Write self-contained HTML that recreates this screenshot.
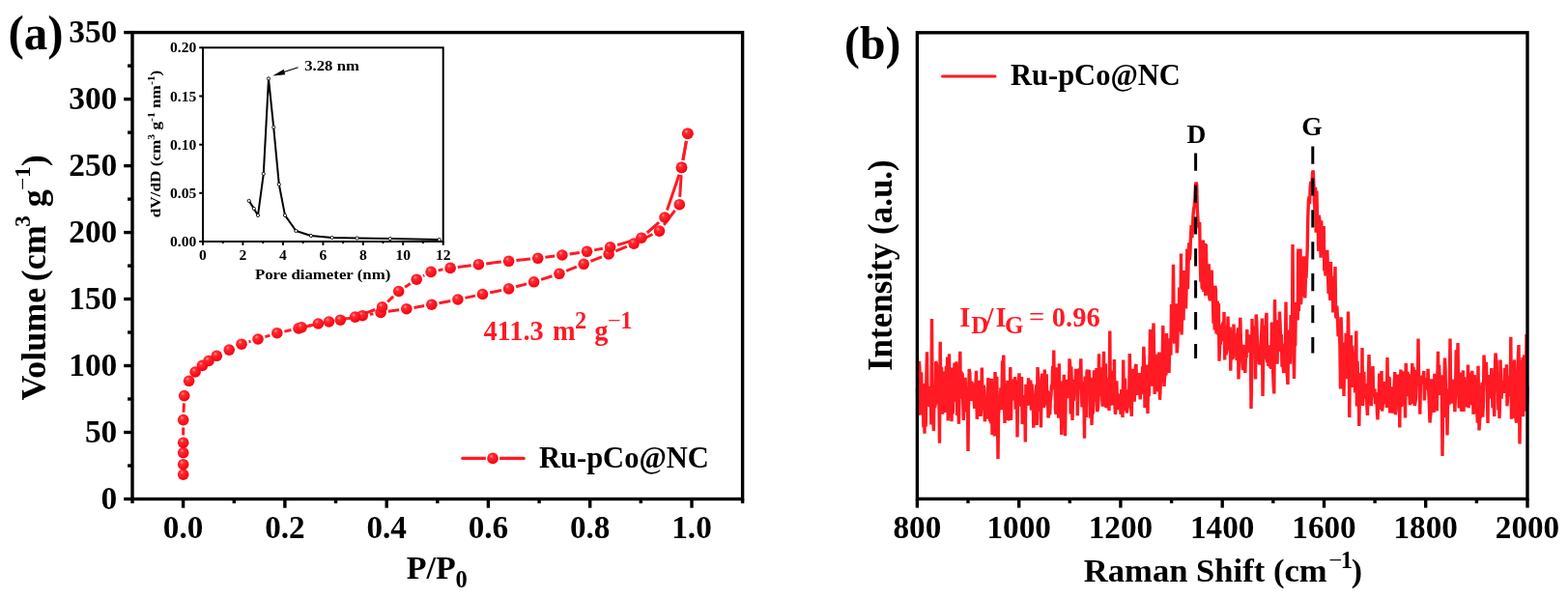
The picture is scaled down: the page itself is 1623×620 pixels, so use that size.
<!DOCTYPE html>
<html><head><meta charset="utf-8"><title>Figure</title>
<style>
html,body{margin:0;padding:0;background:#fff;}
body{width:1623px;height:620px;overflow:hidden;}
svg{display:block;font-family:"Liberation Serif", "Times New Roman", serif;}
</style></head>
<body>
<svg width="1623" height="620" viewBox="0 0 1623 620">
<rect x="0" y="0" width="1623" height="620" fill="#fff"/>
<rect x="137.0" y="33.6" width="631.6" height="482.9" fill="none" stroke="#000" stroke-width="3.4"/>
<line x1="128.2" y1="516.5" x2="137.0" y2="516.5" stroke="#000" stroke-width="3.4"/>
<text x="121.3" y="527.2" font-size="34" text-anchor="end" fill="#000" font-weight="bold" textLength="16.7" lengthAdjust="spacingAndGlyphs">0</text>
<line x1="132.1" y1="482.0" x2="137.0" y2="482.0" stroke="#000" stroke-width="3.4"/>
<line x1="128.2" y1="447.5" x2="137.0" y2="447.5" stroke="#000" stroke-width="3.4"/>
<text x="121.3" y="458.2" font-size="34" text-anchor="end" fill="#000" font-weight="bold" textLength="33.4" lengthAdjust="spacingAndGlyphs">50</text>
<line x1="132.1" y1="413.0" x2="137.0" y2="413.0" stroke="#000" stroke-width="3.4"/>
<line x1="128.2" y1="378.5" x2="137.0" y2="378.5" stroke="#000" stroke-width="3.4"/>
<text x="121.3" y="389.2" font-size="34" text-anchor="end" fill="#000" font-weight="bold" textLength="50.1" lengthAdjust="spacingAndGlyphs">100</text>
<line x1="132.1" y1="344.0" x2="137.0" y2="344.0" stroke="#000" stroke-width="3.4"/>
<line x1="128.2" y1="309.5" x2="137.0" y2="309.5" stroke="#000" stroke-width="3.4"/>
<text x="121.3" y="320.2" font-size="34" text-anchor="end" fill="#000" font-weight="bold" textLength="50.1" lengthAdjust="spacingAndGlyphs">150</text>
<line x1="132.1" y1="275.1" x2="137.0" y2="275.1" stroke="#000" stroke-width="3.4"/>
<line x1="128.2" y1="240.6" x2="137.0" y2="240.6" stroke="#000" stroke-width="3.4"/>
<text x="121.3" y="251.3" font-size="34" text-anchor="end" fill="#000" font-weight="bold" textLength="50.1" lengthAdjust="spacingAndGlyphs">200</text>
<line x1="132.1" y1="206.1" x2="137.0" y2="206.1" stroke="#000" stroke-width="3.4"/>
<line x1="128.2" y1="171.6" x2="137.0" y2="171.6" stroke="#000" stroke-width="3.4"/>
<text x="121.3" y="182.3" font-size="34" text-anchor="end" fill="#000" font-weight="bold" textLength="50.1" lengthAdjust="spacingAndGlyphs">250</text>
<line x1="132.1" y1="137.1" x2="137.0" y2="137.1" stroke="#000" stroke-width="3.4"/>
<line x1="128.2" y1="102.6" x2="137.0" y2="102.6" stroke="#000" stroke-width="3.4"/>
<text x="121.3" y="113.3" font-size="34" text-anchor="end" fill="#000" font-weight="bold" textLength="50.1" lengthAdjust="spacingAndGlyphs">300</text>
<line x1="132.1" y1="68.1" x2="137.0" y2="68.1" stroke="#000" stroke-width="3.4"/>
<line x1="128.2" y1="33.6" x2="137.0" y2="33.6" stroke="#000" stroke-width="3.4"/>
<text x="121.3" y="44.3" font-size="34" text-anchor="end" fill="#000" font-weight="bold" textLength="50.1" lengthAdjust="spacingAndGlyphs">350</text>
<line x1="137.0" y1="516.5" x2="137.0" y2="521.0" stroke="#000" stroke-width="3.4"/>
<line x1="189.6" y1="516.5" x2="189.6" y2="525.7" stroke="#000" stroke-width="3.4"/>
<text x="189.6" y="557.4" font-size="33.2" text-anchor="middle" fill="#000" font-weight="bold" >0.0</text>
<line x1="242.3" y1="516.5" x2="242.3" y2="521.0" stroke="#000" stroke-width="3.4"/>
<line x1="294.9" y1="516.5" x2="294.9" y2="525.7" stroke="#000" stroke-width="3.4"/>
<text x="294.9" y="557.4" font-size="33.2" text-anchor="middle" fill="#000" font-weight="bold" >0.2</text>
<line x1="347.5" y1="516.5" x2="347.5" y2="521.0" stroke="#000" stroke-width="3.4"/>
<line x1="400.2" y1="516.5" x2="400.2" y2="525.7" stroke="#000" stroke-width="3.4"/>
<text x="400.2" y="557.4" font-size="33.2" text-anchor="middle" fill="#000" font-weight="bold" >0.4</text>
<line x1="452.8" y1="516.5" x2="452.8" y2="521.0" stroke="#000" stroke-width="3.4"/>
<line x1="505.4" y1="516.5" x2="505.4" y2="525.7" stroke="#000" stroke-width="3.4"/>
<text x="505.4" y="557.4" font-size="33.2" text-anchor="middle" fill="#000" font-weight="bold" >0.6</text>
<line x1="558.1" y1="516.5" x2="558.1" y2="521.0" stroke="#000" stroke-width="3.4"/>
<line x1="610.7" y1="516.5" x2="610.7" y2="525.7" stroke="#000" stroke-width="3.4"/>
<text x="610.7" y="557.4" font-size="33.2" text-anchor="middle" fill="#000" font-weight="bold" >0.8</text>
<line x1="663.3" y1="516.5" x2="663.3" y2="521.0" stroke="#000" stroke-width="3.4"/>
<line x1="716.0" y1="516.5" x2="716.0" y2="525.7" stroke="#000" stroke-width="3.4"/>
<text x="716.0" y="557.4" font-size="33.2" text-anchor="middle" fill="#000" font-weight="bold" >1.0</text>
<line x1="768.6" y1="516.5" x2="768.6" y2="521.0" stroke="#000" stroke-width="3.4"/>
<text x="8.4" y="50.6" font-size="50" text-anchor="start" fill="#000" font-weight="bold" textLength="57.2" lengthAdjust="spacingAndGlyphs">(a)</text>
<text x="420.8" y="599.1" font-size="34" font-weight="bold" fill="#000">P/P<tspan font-size="24.5" x="471.6" y="607.6">0</tspan></text>
<text transform="translate(46.6,414.5) rotate(-90)" font-size="36" font-weight="bold" fill="#000">Volume <tspan dx="-2.5">(cm</tspan><tspan font-size="23" dy="-15.5" dx="-1.3">3</tspan><tspan dy="15.5"> g</tspan><tspan font-size="23" dy="-15.5" dx="-0.5" font-weight="normal">−</tspan><tspan font-size="23">1</tspan><tspan dy="15.5">)</tspan></text>
<defs><radialGradient id="ball" cx="0.38" cy="0.32" r="0.7"><stop offset="0" stop-color="#ff9a9a"/><stop offset="0.25" stop-color="#ff2a30"/><stop offset="1" stop-color="#f50010"/></radialGradient></defs>
<path d="M189.7,450.4 L189.7,442.4 M190.0,426.8 L190.4,417.4 M257.5,353.9 L259.5,353.3 M274.4,348.6 L279.4,347.1 M294.4,343.1 L301.4,341.5 M316.6,338.1 L321.8,336.8 M337.1,333.7 L344.6,332.5 M360.0,329.7 L367.5,328.2 M382.9,325.4 L386.4,324.7 M401.8,322.3 L413.1,320.8 M428.5,318.4 L439.1,316.5 M454.5,313.7 L466.2,311.5 M481.5,308.4 L491.9,306.1 M507.1,302.9 L519.0,300.5 M534.1,296.8 L545.1,293.9 M560.0,289.4 L571.5,285.7 M586.2,280.4 L596.9,276.2 M611.4,270.4 L622.9,265.8 M637.3,259.9 L648.9,255.1 M663.1,248.7 L675.5,242.5 M687.2,232.9 L698.6,217.9 M703.7,203.9 L705.1,181.2 M706.9,165.7 L710.4,145.9" fill="none" stroke="#ff1a24" stroke-width="3" stroke-linecap="butt"/>
<path d="M710.4,145.9 L706.9,165.7 M703.0,180.8 L690.5,217.6 M682.1,230.2 L669.8,241.0 M656.4,248.4 L639.1,253.6 M623.9,257.2 L615.2,258.9 M599.8,261.4 L589.6,262.9 M574.2,265.0 L564.4,266.3 M548.9,268.1 L534.4,269.5 M518.8,271.1 L503.2,272.9 M487.7,274.7 L473.8,276.4 M458.5,278.9 L453.7,279.9 M439.2,285.0 L438.1,285.6 M424.7,293.5 L419.2,297.2 M407.1,306.9 L401.2,312.4 M388.3,320.5 L374.9,325.4 M359.9,329.5 L348.2,331.6 M332.9,334.6 L319.7,337.2" fill="none" stroke="#ff1a24" stroke-width="3" stroke-linecap="butt"/>
<circle cx="189.7" cy="491.1" r="5.8" fill="url(#ball)"/>
<circle cx="189.7" cy="480.7" r="5.8" fill="url(#ball)"/>
<circle cx="189.7" cy="468.6" r="5.8" fill="url(#ball)"/>
<circle cx="189.7" cy="458.2" r="5.8" fill="url(#ball)"/>
<circle cx="189.7" cy="434.6" r="5.8" fill="url(#ball)"/>
<circle cx="190.7" cy="409.6" r="5.8" fill="url(#ball)"/>
<circle cx="195.6" cy="394.3" r="5.8" fill="url(#ball)"/>
<circle cx="202.1" cy="385.0" r="5.8" fill="url(#ball)"/>
<circle cx="209.4" cy="378.4" r="5.8" fill="url(#ball)"/>
<circle cx="216.0" cy="373.5" r="5.8" fill="url(#ball)"/>
<circle cx="224.3" cy="368.3" r="5.8" fill="url(#ball)"/>
<circle cx="237.2" cy="362.1" r="5.8" fill="url(#ball)"/>
<circle cx="250.0" cy="356.2" r="5.8" fill="url(#ball)"/>
<circle cx="267.0" cy="351.0" r="5.8" fill="url(#ball)"/>
<circle cx="286.8" cy="344.7" r="5.8" fill="url(#ball)"/>
<circle cx="309.0" cy="339.9" r="5.8" fill="url(#ball)"/>
<circle cx="329.4" cy="335.0" r="5.8" fill="url(#ball)"/>
<circle cx="352.3" cy="331.2" r="5.8" fill="url(#ball)"/>
<circle cx="375.2" cy="326.7" r="5.8" fill="url(#ball)"/>
<circle cx="394.1" cy="323.4" r="5.8" fill="url(#ball)"/>
<circle cx="420.8" cy="319.7" r="5.8" fill="url(#ball)"/>
<circle cx="446.8" cy="315.2" r="5.8" fill="url(#ball)"/>
<circle cx="473.9" cy="310.0" r="5.8" fill="url(#ball)"/>
<circle cx="499.5" cy="304.5" r="5.8" fill="url(#ball)"/>
<circle cx="526.6" cy="298.9" r="5.8" fill="url(#ball)"/>
<circle cx="552.6" cy="291.8" r="5.8" fill="url(#ball)"/>
<circle cx="578.9" cy="283.3" r="5.8" fill="url(#ball)"/>
<circle cx="604.2" cy="273.3" r="5.8" fill="url(#ball)"/>
<circle cx="630.1" cy="262.9" r="5.8" fill="url(#ball)"/>
<circle cx="656.1" cy="252.1" r="5.8" fill="url(#ball)"/>
<circle cx="682.5" cy="239.1" r="5.8" fill="url(#ball)"/>
<circle cx="703.3" cy="211.7" r="5.8" fill="url(#ball)"/>
<circle cx="705.5" cy="173.4" r="5.8" fill="url(#ball)"/>
<circle cx="711.8" cy="138.2" r="5.8" fill="url(#ball)"/>
<circle cx="711.8" cy="138.2" r="5.8" fill="url(#ball)"/>
<circle cx="705.5" cy="173.4" r="5.8" fill="url(#ball)"/>
<circle cx="688.0" cy="225.0" r="5.8" fill="url(#ball)"/>
<circle cx="663.9" cy="246.2" r="5.8" fill="url(#ball)"/>
<circle cx="631.6" cy="255.8" r="5.8" fill="url(#ball)"/>
<circle cx="607.5" cy="260.3" r="5.8" fill="url(#ball)"/>
<circle cx="581.9" cy="264.0" r="5.8" fill="url(#ball)"/>
<circle cx="556.7" cy="267.3" r="5.8" fill="url(#ball)"/>
<circle cx="526.6" cy="270.3" r="5.8" fill="url(#ball)"/>
<circle cx="495.4" cy="273.7" r="5.8" fill="url(#ball)"/>
<circle cx="466.1" cy="277.4" r="5.8" fill="url(#ball)"/>
<circle cx="446.1" cy="281.4" r="5.8" fill="url(#ball)"/>
<circle cx="431.2" cy="289.2" r="5.8" fill="url(#ball)"/>
<circle cx="412.7" cy="301.5" r="5.8" fill="url(#ball)"/>
<circle cx="395.6" cy="317.8" r="5.8" fill="url(#ball)"/>
<circle cx="367.6" cy="328.1" r="5.8" fill="url(#ball)"/>
<circle cx="340.5" cy="333.0" r="5.8" fill="url(#ball)"/>
<circle cx="312.1" cy="338.8" r="5.8" fill="url(#ball)"/>
<line x1="478.8" y1="474.4" x2="542.2" y2="474.4" stroke="#ff1a24" stroke-width="3.2" stroke-linecap="round"/>
<circle cx="510" cy="474.4" r="7.2" fill="#fff"/><circle cx="510" cy="474.4" r="5.8" fill="url(#ball)"/>
<text x="558.0" y="484.0" font-size="30.5" text-anchor="start" fill="#000" font-weight="bold" >Ru-pCo@NC</text>
<text x="500.4" y="351.5" font-size="28.4" font-weight="bold" fill="#ff1a24">411.3<tspan x="571.9">m</tspan><tspan font-size="24.5" x="595" y="340.2">2</tspan><tspan x="615.3" y="351.5">g</tspan><tspan font-size="24.5" x="629" y="340.2" font-weight="normal">−</tspan><tspan font-size="24.5" x="642.3" y="340.2">1</tspan></text>
<rect x="210.0" y="49.3" width="248.7" height="200.7" fill="none" stroke="#000" stroke-width="2.0"/>
<line x1="206.2" y1="250.0" x2="210.0" y2="250.0" stroke="#000" stroke-width="2.0"/>
<text x="203.3" y="255.0" font-size="15.6" text-anchor="end" fill="#000" font-weight="bold" >0.00</text>
<line x1="206.2" y1="199.8" x2="210.0" y2="199.8" stroke="#000" stroke-width="2.0"/>
<text x="203.3" y="204.8" font-size="15.6" text-anchor="end" fill="#000" font-weight="bold" >0.05</text>
<line x1="206.2" y1="149.7" x2="210.0" y2="149.7" stroke="#000" stroke-width="2.0"/>
<text x="203.3" y="154.7" font-size="15.6" text-anchor="end" fill="#000" font-weight="bold" >0.10</text>
<line x1="206.2" y1="99.5" x2="210.0" y2="99.5" stroke="#000" stroke-width="2.0"/>
<text x="203.3" y="104.5" font-size="15.6" text-anchor="end" fill="#000" font-weight="bold" >0.15</text>
<line x1="206.2" y1="49.3" x2="210.0" y2="49.3" stroke="#000" stroke-width="2.0"/>
<text x="203.3" y="54.3" font-size="15.6" text-anchor="end" fill="#000" font-weight="bold" >0.20</text>
<line x1="210.0" y1="250.0" x2="210.0" y2="253.8" stroke="#000" stroke-width="2.0"/>
<text x="210.0" y="268.7" font-size="15.6" text-anchor="middle" fill="#000" font-weight="bold" >0</text>
<line x1="230.7" y1="250.0" x2="230.7" y2="252.0" stroke="#000" stroke-width="2.0"/>
<line x1="251.4" y1="250.0" x2="251.4" y2="253.8" stroke="#000" stroke-width="2.0"/>
<text x="251.4" y="268.7" font-size="15.6" text-anchor="middle" fill="#000" font-weight="bold" >2</text>
<line x1="272.2" y1="250.0" x2="272.2" y2="252.0" stroke="#000" stroke-width="2.0"/>
<line x1="292.9" y1="250.0" x2="292.9" y2="253.8" stroke="#000" stroke-width="2.0"/>
<text x="292.9" y="268.7" font-size="15.6" text-anchor="middle" fill="#000" font-weight="bold" >4</text>
<line x1="313.6" y1="250.0" x2="313.6" y2="252.0" stroke="#000" stroke-width="2.0"/>
<line x1="334.4" y1="250.0" x2="334.4" y2="253.8" stroke="#000" stroke-width="2.0"/>
<text x="334.4" y="268.7" font-size="15.6" text-anchor="middle" fill="#000" font-weight="bold" >6</text>
<line x1="355.1" y1="250.0" x2="355.1" y2="252.0" stroke="#000" stroke-width="2.0"/>
<line x1="375.8" y1="250.0" x2="375.8" y2="253.8" stroke="#000" stroke-width="2.0"/>
<text x="375.8" y="268.7" font-size="15.6" text-anchor="middle" fill="#000" font-weight="bold" >8</text>
<line x1="396.5" y1="250.0" x2="396.5" y2="252.0" stroke="#000" stroke-width="2.0"/>
<line x1="417.2" y1="250.0" x2="417.2" y2="253.8" stroke="#000" stroke-width="2.0"/>
<text x="417.2" y="268.7" font-size="15.6" text-anchor="middle" fill="#000" font-weight="bold" >10</text>
<line x1="438.0" y1="250.0" x2="438.0" y2="252.0" stroke="#000" stroke-width="2.0"/>
<line x1="458.7" y1="250.0" x2="458.7" y2="253.8" stroke="#000" stroke-width="2.0"/>
<text x="458.7" y="268.7" font-size="15.6" text-anchor="middle" fill="#000" font-weight="bold" >12</text>
<text x="334.1" y="289.0" font-size="15.5" text-anchor="middle" fill="#000" font-weight="bold" textLength="140.3" lengthAdjust="spacingAndGlyphs">Pore diameter (nm)</text>
<text transform="translate(166.2,149) rotate(-90)" text-anchor="middle" font-size="15.5" font-weight="bold" fill="#000" textLength="152.7" lengthAdjust="spacingAndGlyphs">dV/dD (cm<tspan font-size="10.5" dy="-6.5">3</tspan><tspan dy="6.5"> g</tspan><tspan font-size="10.5" dy="-6.5">-1</tspan><tspan dy="6.5"> nm</tspan><tspan font-size="10.5" dy="-6.5">-1</tspan><tspan dy="6.5">)</tspan></text>
<path d="M257.7,207.9 L262.8,215.9 L267.0,222.9 L272.8,179.8 L278.0,81.4 L283.2,131.6 L288.8,190.8 L295.0,222.9 L306.4,239.0 L321.9,244.0 L343.7,246.0 L369.6,246.5 L403.8,247.0 L454.6,248.0" fill="none" stroke="#000" stroke-width="2" stroke-linejoin="round"/>
<circle cx="257.7" cy="207.9" r="1.6" fill="#fff" stroke="#000" stroke-width="0.9"/>
<circle cx="262.8" cy="215.9" r="1.6" fill="#fff" stroke="#000" stroke-width="0.9"/>
<circle cx="267.0" cy="222.9" r="1.6" fill="#fff" stroke="#000" stroke-width="0.9"/>
<circle cx="272.8" cy="179.8" r="1.6" fill="#fff" stroke="#000" stroke-width="0.9"/>
<circle cx="278.0" cy="81.4" r="1.6" fill="#fff" stroke="#000" stroke-width="0.9"/>
<circle cx="283.2" cy="131.6" r="1.6" fill="#fff" stroke="#000" stroke-width="0.9"/>
<circle cx="288.8" cy="190.8" r="1.6" fill="#fff" stroke="#000" stroke-width="0.9"/>
<circle cx="295.0" cy="222.9" r="1.6" fill="#fff" stroke="#000" stroke-width="0.9"/>
<circle cx="306.4" cy="239.0" r="1.6" fill="#fff" stroke="#000" stroke-width="0.9"/>
<circle cx="321.9" cy="244.0" r="1.6" fill="#fff" stroke="#000" stroke-width="0.9"/>
<circle cx="343.7" cy="246.0" r="1.6" fill="#fff" stroke="#000" stroke-width="0.9"/>
<circle cx="369.6" cy="246.5" r="1.6" fill="#fff" stroke="#000" stroke-width="0.9"/>
<circle cx="403.8" cy="247.0" r="1.6" fill="#fff" stroke="#000" stroke-width="0.9"/>
<circle cx="454.6" cy="248.0" r="1.6" fill="#fff" stroke="#000" stroke-width="0.9"/>
<line x1="308.5" y1="69.8" x2="287" y2="76.8" stroke="#000" stroke-width="1.2"/>
<polygon points="282.2,78.6 293.7,71.8 295.2,77.3" fill="#000"/>
<text x="315.2" y="73.4" font-size="15.5" text-anchor="start" fill="#000" font-weight="bold" textLength="56.7" lengthAdjust="spacingAndGlyphs">3.28 nm</text>
<line x1="949.4" y1="516.4" x2="949.4" y2="525.6" stroke="#000" stroke-width="3.4"/>
<text x="949.4" y="557.4" font-size="33.2" text-anchor="middle" fill="#000" font-weight="bold" >800</text>
<line x1="1002.0" y1="516.4" x2="1002.0" y2="520.9" stroke="#000" stroke-width="3.4"/>
<line x1="1054.7" y1="516.4" x2="1054.7" y2="525.6" stroke="#000" stroke-width="3.4"/>
<text x="1054.7" y="557.4" font-size="33.2" text-anchor="middle" fill="#000" font-weight="bold" >1000</text>
<line x1="1107.3" y1="516.4" x2="1107.3" y2="520.9" stroke="#000" stroke-width="3.4"/>
<line x1="1159.9" y1="516.4" x2="1159.9" y2="525.6" stroke="#000" stroke-width="3.4"/>
<text x="1159.9" y="557.4" font-size="33.2" text-anchor="middle" fill="#000" font-weight="bold" >1200</text>
<line x1="1212.6" y1="516.4" x2="1212.6" y2="520.9" stroke="#000" stroke-width="3.4"/>
<line x1="1265.2" y1="516.4" x2="1265.2" y2="525.6" stroke="#000" stroke-width="3.4"/>
<text x="1265.2" y="557.4" font-size="33.2" text-anchor="middle" fill="#000" font-weight="bold" >1400</text>
<line x1="1317.8" y1="516.4" x2="1317.8" y2="520.9" stroke="#000" stroke-width="3.4"/>
<line x1="1370.5" y1="516.4" x2="1370.5" y2="525.6" stroke="#000" stroke-width="3.4"/>
<text x="1370.5" y="557.4" font-size="33.2" text-anchor="middle" fill="#000" font-weight="bold" >1600</text>
<line x1="1423.1" y1="516.4" x2="1423.1" y2="520.9" stroke="#000" stroke-width="3.4"/>
<line x1="1475.7" y1="516.4" x2="1475.7" y2="525.6" stroke="#000" stroke-width="3.4"/>
<text x="1475.7" y="557.4" font-size="33.2" text-anchor="middle" fill="#000" font-weight="bold" >1800</text>
<line x1="1528.4" y1="516.4" x2="1528.4" y2="520.9" stroke="#000" stroke-width="3.4"/>
<line x1="1581.0" y1="516.4" x2="1581.0" y2="525.6" stroke="#000" stroke-width="3.4"/>
<text x="1581.0" y="557.4" font-size="33.2" text-anchor="middle" fill="#000" font-weight="bold" >2000</text>
<text x="874.0" y="60.5" font-size="49" text-anchor="start" fill="#000" font-weight="bold" textLength="58.3" lengthAdjust="spacingAndGlyphs">(b)</text>
<text x="1121.8" y="601.8" font-size="33.8" font-weight="bold" fill="#000" textLength="251.8" lengthAdjust="spacingAndGlyphs">Raman Shift (cm</text>
<text x="1121.8" y="601.8" font-size="33.8" font-weight="bold" fill="#000"><tspan font-size="24.5" x="1375.5" y="588" font-weight="normal">−</tspan><tspan font-size="24.5" x="1387.8" y="588">1</tspan><tspan x="1398.7" y="601.8">)</tspan></text>
<text transform="translate(923.3,384) rotate(-90)" font-size="35" font-weight="bold" fill="#000">Intensity (a.u.)</text>
<line x1="975.5" y1="79" x2="1030" y2="79" stroke="#ff1a24" stroke-width="3" stroke-linecap="round"/>
<text x="1046.0" y="87.5" font-size="30.5" text-anchor="start" fill="#000" font-weight="bold" >Ru-pCo@NC</text>
<text x="1238.5" y="148.1" font-size="27.5" text-anchor="middle" fill="#000" font-weight="bold" >D</text>
<text x="1358.0" y="140.0" font-size="27.5" text-anchor="middle" fill="#000" font-weight="bold" >G</text>
<text x="993.3" y="337.8" font-size="28.5" font-weight="bold" fill="#ff1a24">I<tspan font-size="25" x="1005.2" y="344.5">D</tspan><tspan x="1020.6" y="337.8">/</tspan><tspan x="1030.4">I</tspan><tspan font-size="25" x="1040" y="344.5">G</tspan><tspan x="1065" y="337.8" font-weight="normal">=</tspan><tspan x="1088.8">0.96</tspan></text>
<path d="M949.4,402.0 L950.0,420.0 L950.5,430.0 L951.3,373.8 L951.9,380.6 L952.4,429.4 L953.0,398.9 L953.6,385.4 L954.1,401.6 L954.7,409.0 L955.3,397.4 L955.9,442.4 L956.4,408.4 L957.0,448.8 L957.6,396.8 L958.2,441.5 L958.9,390.9 L959.5,364.3 L960.1,412.0 L960.8,413.2 L961.4,399.9 L962.0,421.2 L962.6,406.3 L963.2,402.1 L963.9,439.5 L964.5,330.0 L965.1,411.6 L965.7,426.9 L966.4,446.0 L967.0,398.6 L967.6,422.0 L968.2,418.4 L968.8,373.9 L969.4,377.1 L970.0,382.2 L970.6,403.4 L971.3,418.3 L971.9,411.0 L972.5,458.8 L973.2,353.8 L973.8,412.8 L974.4,380.0 L975.1,389.3 L975.7,428.6 L976.3,412.3 L976.9,386.4 L977.5,384.8 L978.2,402.5 L978.8,427.0 L979.4,379.0 L980.0,410.2 L980.6,369.5 L981.3,435.4 L981.9,420.2 L982.5,366.3 L983.1,415.6 L983.8,412.3 L984.4,380.6 L985.0,436.3 L985.6,404.0 L986.2,428.4 L986.9,394.0 L987.5,388.8 L988.1,375.7 L988.8,415.7 L989.4,405.4 L990.0,374.3 L990.6,430.0 L991.2,401.3 L991.9,426.9 L992.5,438.8 L993.1,400.1 L993.8,363.8 L994.4,412.5 L995.0,384.7 L995.6,389.2 L996.1,386.2 L996.7,413.3 L997.3,434.9 L997.9,417.1 L998.5,411.2 L999.1,390.8 L999.7,411.8 L1000.2,426.4 L1000.8,408.1 L1001.4,404.6 L1002.0,467.0 L1002.6,411.5 L1003.2,382.0 L1003.8,385.9 L1004.4,401.2 L1005.0,415.3 L1005.6,395.0 L1006.2,397.4 L1006.9,400.6 L1007.5,401.4 L1008.1,410.2 L1008.7,422.8 L1009.3,396.5 L1009.9,400.1 L1010.5,383.8 L1011.3,433.8 L1011.9,428.8 L1012.5,405.9 L1013.2,393.9 L1013.8,413.2 L1014.4,401.7 L1015.0,430.8 L1015.7,423.0 L1016.3,380.5 L1016.9,406.9 L1017.5,407.6 L1018.1,399.0 L1018.7,401.6 L1019.3,436.3 L1019.9,429.2 L1020.5,421.4 L1021.1,411.1 L1021.7,433.6 L1022.3,410.9 L1022.9,391.0 L1023.5,412.5 L1024.0,398.3 L1024.6,436.3 L1025.2,400.9 L1025.8,438.5 L1026.4,391.9 L1027.0,450.0 L1027.6,408.2 L1028.2,412.2 L1028.8,441.1 L1029.4,451.5 L1030.0,385.0 L1030.6,399.4 L1031.2,392.2 L1031.8,389.8 L1032.4,422.6 L1033.0,475.0 L1033.6,428.0 L1034.2,421.7 L1034.7,419.1 L1035.3,415.0 L1035.9,401.3 L1036.5,424.1 L1037.1,401.4 L1037.6,373.2 L1038.2,406.5 L1038.8,367.5 L1039.4,407.2 L1040.0,438.0 L1040.5,407.1 L1041.1,396.7 L1041.7,415.8 L1042.3,413.0 L1042.9,393.7 L1043.5,435.0 L1044.0,434.0 L1044.6,399.9 L1045.2,412.2 L1045.8,380.0 L1046.5,435.0 L1047.1,399.1 L1047.7,395.4 L1048.3,397.1 L1048.9,414.4 L1049.5,392.2 L1050.0,406.9 L1050.6,390.0 L1051.2,423.8 L1051.8,394.8 L1052.4,394.1 L1053.0,452.5 L1053.7,395.0 L1054.3,395.5 L1055.0,386.3 L1055.6,420.6 L1056.3,415.8 L1056.9,420.6 L1057.5,389.9 L1058.2,439.1 L1058.8,427.7 L1059.4,426.1 L1060.0,409.2 L1060.7,411.9 L1061.3,457.5 L1061.9,397.8 L1062.6,419.7 L1063.2,414.9 L1063.9,419.4 L1064.5,391.3 L1065.1,410.0 L1065.7,407.7 L1066.3,394.9 L1066.8,395.1 L1067.4,424.8 L1068.0,397.4 L1068.6,402.9 L1069.2,411.8 L1069.8,442.7 L1070.4,419.2 L1071.0,421.5 L1071.5,415.9 L1072.1,415.8 L1072.7,398.2 L1073.3,440.0 L1074.0,380.0 L1074.6,390.0 L1075.2,425.6 L1075.8,413.9 L1076.3,396.6 L1076.9,414.6 L1077.5,442.5 L1078.1,393.9 L1078.8,386.7 L1079.4,418.2 L1080.0,412.6 L1080.7,422.0 L1081.3,382.5 L1081.9,408.3 L1082.5,390.0 L1083.2,387.4 L1083.8,419.8 L1084.4,404.3 L1085.0,432.5 L1085.6,429.1 L1086.2,405.9 L1086.7,429.1 L1087.3,413.7 L1087.9,409.0 L1088.5,398.1 L1089.1,399.6 L1089.6,378.9 L1090.2,390.9 L1090.8,362.5 L1091.3,403.1 L1091.9,389.1 L1092.5,424.2 L1093.0,428.8 L1093.7,397.8 L1094.3,380.2 L1095.0,398.3 L1095.6,432.7 L1096.3,376.3 L1096.9,424.1 L1097.5,398.2 L1098.2,415.8 L1098.8,450.0 L1099.4,408.1 L1100.0,394.6 L1100.7,422.7 L1101.3,387.8 L1101.9,418.7 L1102.5,451.3 L1103.1,410.6 L1103.6,412.6 L1104.2,392.8 L1104.8,406.2 L1105.3,409.8 L1105.9,406.3 L1106.4,411.8 L1107.0,371.3 L1107.6,377.6 L1108.2,428.6 L1108.8,379.5 L1109.4,400.6 L1110.0,435.0 L1110.6,406.5 L1111.2,415.1 L1111.8,404.6 L1112.3,393.0 L1112.9,408.6 L1113.5,381.9 L1114.1,406.2 L1114.7,383.3 L1115.3,430.3 L1115.9,404.4 L1116.5,385.9 L1117.0,381.5 L1117.6,399.4 L1118.2,386.8 L1118.8,371.3 L1119.4,403.1 L1120.0,421.4 L1120.7,409.3 L1121.3,395.2 L1121.9,405.4 L1122.5,453.8 L1123.1,389.5 L1123.7,403.3 L1124.3,432.1 L1124.9,385.4 L1125.5,382.5 L1126.1,398.6 L1126.6,397.3 L1127.2,382.8 L1127.8,393.4 L1128.3,432.8 L1128.9,419.1 L1129.4,390.8 L1130.0,440.0 L1130.6,422.4 L1131.2,428.3 L1131.9,417.4 L1132.5,383.4 L1133.1,414.7 L1133.8,413.1 L1134.4,395.5 L1135.0,381.1 L1135.6,425.9 L1136.2,424.3 L1136.9,414.6 L1137.5,366.3 L1138.1,405.6 L1138.8,391.3 L1139.4,410.2 L1140.0,380.2 L1140.6,408.2 L1141.2,420.6 L1141.9,390.2 L1142.5,363.8 L1143.1,420.8 L1143.7,414.4 L1144.3,376.3 L1144.9,422.3 L1145.6,409.7 L1146.2,391.0 L1146.8,402.1 L1147.4,407.4 L1148.0,425.0 L1148.8,342.5 L1149.4,419.6 L1149.9,415.4 L1150.5,383.5 L1151.1,419.5 L1151.7,404.5 L1152.2,403.9 L1152.8,417.9 L1153.4,371.9 L1153.9,418.4 L1154.5,428.8 L1155.1,418.3 L1155.8,394.4 L1156.4,413.7 L1157.0,416.5 L1157.6,424.1 L1158.2,407.7 L1158.9,409.7 L1159.5,409.8 L1160.1,428.9 L1160.8,403.0 L1161.4,422.8 L1162.0,432.0 L1162.7,372.5 L1163.3,425.2 L1163.9,401.2 L1164.5,391.6 L1165.1,420.4 L1165.7,403.3 L1166.3,427.5 L1166.9,423.1 L1167.5,406.1 L1168.1,422.2 L1168.7,411.5 L1169.3,366.0 L1170.0,397.9 L1170.6,420.7 L1171.3,431.0 L1171.9,393.3 L1172.5,381.8 L1173.1,409.2 L1173.7,399.5 L1174.2,415.8 L1174.8,395.1 L1175.4,379.3 L1176.0,377.0 L1176.6,402.0 L1177.2,395.4 L1177.8,409.0 L1178.4,399.5 L1179.0,386.0 L1179.6,400.1 L1180.2,413.5 L1180.8,402.9 L1181.4,403.3 L1182.0,407.9 L1182.6,379.4 L1183.2,393.4 L1183.8,358.8 L1184.4,373.0 L1185.0,422.1 L1185.6,407.3 L1186.2,418.5 L1186.8,377.6 L1187.4,395.6 L1188.0,428.0 L1188.6,380.4 L1189.2,410.3 L1189.9,381.8 L1190.5,341.0 L1191.1,394.7 L1191.7,399.5 L1192.2,385.2 L1192.8,382.2 L1193.4,355.3 L1194.0,334.5 L1194.6,372.3 L1195.2,408.0 L1195.8,375.3 L1196.4,385.7 L1197.0,395.5 L1197.5,368.8 L1198.1,367.1 L1198.7,405.4 L1199.3,399.7 L1199.9,364.5 L1200.5,413.8 L1201.2,398.7 L1201.8,386.0 L1202.5,383.2 L1203.1,374.8 L1203.8,337.0 L1204.4,387.1 L1205.0,400.0 L1205.6,389.0 L1206.2,384.4 L1206.9,388.6 L1207.5,345.0 L1208.1,382.3 L1208.8,369.3 L1209.4,358.2 L1210.0,386.0 L1210.6,362.8 L1211.2,350.0 L1211.9,367.8 L1212.5,315.0 L1213.2,335.9 L1213.8,337.7 L1214.5,273.8 L1215.1,336.7 L1215.7,355.6 L1216.3,319.2 L1217.0,338.8 L1217.6,314.2 L1218.2,365.4 L1218.8,357.6 L1219.4,321.5 L1220.0,343.4 L1220.7,297.5 L1221.3,331.5 L1221.9,330.2 L1222.5,262.5 L1223.1,346.5 L1223.8,304.4 L1224.4,283.5 L1225.0,331.6 L1225.7,280.1 L1226.3,291.1 L1226.9,291.8 L1227.5,319.4 L1228.2,289.8 L1228.8,257.5 L1229.4,299.1 L1230.0,275.3 L1230.7,251.4 L1231.3,269.1 L1231.9,262.8 L1232.5,244.4 L1233.1,233.1 L1233.8,246.1 L1234.4,238.1 L1235.0,223.2 L1235.6,215.9 L1236.2,213.4 L1236.9,204.2 L1237.5,191.3 L1238.1,188.6 L1238.7,191.2 L1239.3,216.7 L1239.9,227.3 L1240.5,233.1 L1241.1,236.3 L1241.7,230.1 L1242.3,270.3 L1242.9,291.7 L1243.5,275.9 L1244.1,297.6 L1244.7,299.1 L1245.3,248.4 L1245.9,302.0 L1246.5,252.8 L1247.1,252.0 L1247.7,306.3 L1248.3,252.9 L1248.9,278.4 L1249.5,305.6 L1250.0,296.1 L1250.7,282.4 L1251.2,273.2 L1251.8,307.8 L1252.4,311.1 L1253.0,299.8 L1253.6,281.4 L1254.2,279.9 L1254.8,309.4 L1255.4,310.8 L1256.0,334.8 L1256.6,308.9 L1257.2,341.5 L1257.8,295.7 L1258.4,299.9 L1259.0,345.5 L1259.6,326.4 L1260.2,311.5 L1260.8,346.8 L1261.4,314.1 L1262.0,373.8 L1262.6,355.7 L1263.2,356.4 L1263.9,339.1 L1264.5,336.3 L1265.1,338.9 L1265.8,333.6 L1266.4,353.1 L1267.0,323.0 L1267.7,372.5 L1268.4,341.0 L1269.0,367.1 L1269.7,364.3 L1270.3,360.2 L1271.0,327.5 L1271.6,351.1 L1272.1,355.7 L1272.7,359.3 L1273.2,338.5 L1273.8,383.8 L1274.4,341.7 L1275.1,372.5 L1275.7,359.8 L1276.4,371.5 L1277.0,335.5 L1277.6,367.8 L1278.2,352.9 L1278.9,368.3 L1279.5,345.4 L1280.1,373.0 L1280.8,349.4 L1281.4,339.3 L1282.0,392.5 L1282.6,367.2 L1283.2,344.4 L1283.8,328.8 L1284.4,351.7 L1285.0,366.9 L1285.7,370.9 L1286.3,383.1 L1286.9,356.8 L1287.5,371.0 L1288.2,365.1 L1288.8,386.0 L1289.5,365.1 L1290.1,370.5 L1290.8,341.0 L1291.4,360.5 L1292.0,364.7 L1292.6,346.4 L1293.2,352.9 L1293.8,361.0 L1294.4,354.3 L1295.0,423.0 L1295.5,395.2 L1296.0,330.0 L1296.6,356.6 L1297.2,358.7 L1297.8,365.9 L1298.3,347.8 L1298.9,337.6 L1299.5,392.5 L1300.2,325.5 L1300.8,333.1 L1301.4,353.0 L1302.0,366.2 L1302.7,363.1 L1303.3,377.3 L1303.9,376.0 L1304.5,371.7 L1305.2,353.9 L1305.8,343.9 L1306.4,329.5 L1307.0,410.0 L1307.6,372.6 L1308.1,371.2 L1308.7,342.7 L1309.3,336.6 L1309.9,369.6 L1310.4,329.7 L1311.0,323.8 L1311.6,375.3 L1312.2,370.3 L1312.8,378.8 L1313.4,366.8 L1314.0,357.4 L1314.6,380.6 L1315.2,365.3 L1315.8,381.9 L1316.4,333.4 L1317.0,350.2 L1317.6,383.6 L1318.2,398.6 L1318.8,407.5 L1319.5,310.0 L1320.1,345.5 L1320.8,359.9 L1321.4,331.2 L1322.0,376.7 L1322.6,352.4 L1323.2,345.7 L1323.9,363.9 L1324.5,322.5 L1325.1,335.7 L1325.7,359.5 L1326.3,346.1 L1327.0,379.6 L1327.6,355.8 L1328.2,380.6 L1328.8,386.0 L1329.3,362.2 L1329.9,378.1 L1330.5,353.3 L1331.0,312.5 L1331.7,370.7 L1332.3,387.4 L1333.0,398.0 L1333.6,341.4 L1334.2,367.9 L1334.9,362.0 L1335.5,376.8 L1336.1,326.1 L1336.8,335.5 L1337.4,367.0 L1338.0,253.0 L1338.8,353.1 L1339.5,392.0 L1340.1,349.2 L1340.7,358.0 L1341.3,314.8 L1342.0,313.6 L1342.6,323.4 L1343.2,331.4 L1343.8,257.5 L1344.3,322.2 L1344.9,309.6 L1345.5,308.0 L1346.0,257.5 L1346.6,315.3 L1347.2,301.6 L1347.8,299.4 L1348.4,306.7 L1349.0,278.4 L1349.6,265.3 L1350.2,277.4 L1350.8,308.5 L1351.4,287.3 L1352.0,287.0 L1352.6,272.0 L1353.2,258.4 L1353.8,224.7 L1354.4,208.6 L1355.0,203.4 L1355.6,211.3 L1356.2,193.5 L1356.8,188.0 L1357.4,193.9 L1358.0,188.8 L1358.6,178.9 L1359.2,176.4 L1359.8,188.9 L1360.4,207.8 L1361.0,217.0 L1361.6,193.7 L1362.2,240.8 L1362.9,197.5 L1363.5,223.5 L1364.1,225.8 L1364.7,260.0 L1365.3,222.7 L1365.9,227.9 L1366.5,241.5 L1367.1,266.6 L1367.7,228.4 L1368.3,262.4 L1369.0,250.9 L1369.6,250.8 L1370.2,234.1 L1370.8,280.6 L1371.4,275.2 L1372.0,285.5 L1372.6,280.6 L1373.2,275.5 L1373.8,258.7 L1374.5,282.9 L1375.1,304.0 L1375.7,291.2 L1376.3,302.0 L1376.9,311.0 L1377.5,271.0 L1378.1,304.1 L1378.6,295.7 L1379.2,285.9 L1379.8,323.4 L1380.3,305.0 L1380.9,307.7 L1381.4,313.8 L1382.0,276.0 L1382.6,327.1 L1383.2,329.4 L1383.8,316.7 L1384.4,327.6 L1385.1,348.3 L1385.7,330.7 L1386.3,345.6 L1386.9,355.7 L1387.5,402.5 L1388.1,328.2 L1388.7,348.2 L1389.2,387.3 L1389.8,390.4 L1390.4,354.4 L1391.0,410.0 L1391.6,366.2 L1392.1,368.1 L1392.7,368.4 L1393.2,344.8 L1393.8,392.1 L1394.4,376.6 L1394.9,365.7 L1395.5,322.5 L1396.2,361.8 L1396.8,432.0 L1397.4,360.6 L1398.0,363.6 L1398.5,347.1 L1399.1,401.1 L1399.7,357.8 L1400.3,379.4 L1400.9,364.3 L1401.5,386.8 L1402.0,377.7 L1402.6,406.5 L1403.2,378.0 L1403.8,342.5 L1404.4,420.6 L1405.0,373.9 L1405.6,392.8 L1406.2,400.3 L1406.8,441.0 L1407.4,404.9 L1408.1,386.1 L1408.7,418.0 L1409.4,413.7 L1410.0,360.0 L1410.6,420.1 L1411.2,406.7 L1411.8,384.9 L1412.4,410.5 L1413.1,397.2 L1413.7,412.8 L1414.3,398.4 L1414.9,421.1 L1415.5,430.0 L1416.2,397.4 L1417.0,367.0 L1417.6,385.3 L1418.1,405.0 L1418.7,401.6 L1419.3,420.2 L1419.9,386.5 L1420.4,397.9 L1421.0,379.0 L1421.6,411.2 L1422.2,404.0 L1422.9,404.0 L1423.5,418.1 L1424.1,409.6 L1424.8,406.0 L1425.4,425.8 L1426.0,434.5 L1426.6,414.0 L1427.1,415.9 L1427.7,386.6 L1428.3,411.7 L1428.9,421.4 L1429.4,423.6 L1430.0,384.0 L1430.6,425.6 L1431.2,419.9 L1431.8,402.3 L1432.4,417.5 L1433.0,411.0 L1433.6,395.1 L1434.2,418.3 L1434.8,402.9 L1435.4,422.0 L1436.0,370.0 L1436.6,418.3 L1437.1,412.6 L1437.7,390.1 L1438.2,392.1 L1438.8,427.5 L1439.4,409.6 L1440.0,409.2 L1440.7,400.4 L1441.3,427.7 L1441.9,421.8 L1442.5,411.7 L1443.2,398.0 L1443.8,385.0 L1444.4,429.3 L1445.0,424.3 L1445.7,399.7 L1446.3,413.0 L1446.9,387.5 L1447.5,399.8 L1448.2,391.2 L1448.8,442.5 L1449.4,393.9 L1450.0,382.5 L1450.6,421.0 L1451.1,417.4 L1451.7,405.2 L1452.2,384.2 L1452.8,387.9 L1453.4,404.7 L1453.9,390.2 L1454.5,432.5 L1455.2,376.0 L1455.8,386.8 L1456.4,410.2 L1457.0,384.8 L1457.6,394.0 L1458.2,387.2 L1458.8,406.4 L1459.4,419.1 L1460.0,416.7 L1460.6,398.1 L1461.2,401.9 L1461.8,376.0 L1462.4,417.9 L1463.0,379.7 L1463.7,411.7 L1464.3,420.0 L1464.9,416.5 L1465.5,412.0 L1466.2,382.8 L1466.8,392.6 L1467.4,398.6 L1468.0,350.5 L1468.6,389.2 L1469.2,393.1 L1469.8,428.8 L1470.4,398.7 L1470.9,389.8 L1471.5,394.4 L1472.1,388.6 L1472.7,397.8 L1473.2,390.7 L1473.8,384.0 L1474.4,414.5 L1475.0,397.9 L1475.7,392.8 L1476.3,391.5 L1476.9,403.2 L1477.5,399.7 L1478.1,381.8 L1478.8,406.3 L1479.4,419.9 L1480.0,437.5 L1480.6,431.0 L1481.2,426.0 L1481.8,392.4 L1482.4,413.2 L1483.0,415.8 L1483.6,405.0 L1484.2,427.0 L1484.9,386.8 L1485.5,395.2 L1486.1,409.6 L1486.7,398.7 L1487.3,425.4 L1487.9,390.8 L1488.5,363.8 L1489.1,408.6 L1489.6,377.8 L1490.2,394.0 L1490.8,408.8 L1491.3,403.7 L1491.9,388.3 L1492.4,409.6 L1493.0,472.0 L1493.6,418.2 L1494.2,418.1 L1494.9,399.0 L1495.5,370.5 L1496.1,383.8 L1496.8,432.1 L1497.4,412.8 L1498.0,450.5 L1498.6,417.8 L1499.2,402.5 L1499.8,419.3 L1500.4,392.3 L1501.0,350.5 L1501.6,404.0 L1502.2,417.7 L1502.8,400.5 L1503.5,392.5 L1504.1,402.5 L1504.7,401.9 L1505.3,408.0 L1505.9,426.2 L1506.5,406.7 L1507.2,362.2 L1507.8,364.9 L1508.4,383.0 L1509.0,355.0 L1509.6,398.2 L1510.2,422.4 L1510.8,405.9 L1511.4,416.7 L1512.0,385.6 L1512.6,424.4 L1513.2,425.1 L1513.8,419.0 L1514.4,383.4 L1515.0,426.0 L1515.6,390.4 L1516.1,414.2 L1516.7,400.9 L1517.2,400.5 L1517.8,406.0 L1518.4,421.2 L1518.9,403.1 L1519.5,377.5 L1520.1,422.3 L1520.7,385.9 L1521.3,387.8 L1521.9,395.5 L1522.6,402.2 L1523.2,419.3 L1523.8,383.9 L1524.4,400.0 L1525.0,428.8 L1525.6,422.9 L1526.2,388.2 L1526.9,400.5 L1527.5,422.6 L1528.1,427.5 L1528.8,426.2 L1529.4,437.7 L1530.0,378.8 L1530.5,416.5 L1531.0,445.5 L1531.6,435.3 L1532.2,430.3 L1532.9,405.7 L1533.5,403.1 L1534.1,396.0 L1534.8,431.8 L1535.4,416.9 L1536.0,367.5 L1536.6,378.3 L1537.1,376.0 L1537.7,395.4 L1538.3,374.8 L1538.9,393.3 L1539.4,409.0 L1540.0,438.0 L1540.6,388.0 L1541.3,407.0 L1541.9,409.1 L1542.5,396.8 L1543.2,412.4 L1543.8,381.0 L1544.4,403.5 L1545.0,422.1 L1545.6,386.4 L1546.2,419.4 L1546.8,431.1 L1547.4,381.9 L1548.0,365.5 L1548.6,371.2 L1549.1,374.0 L1549.7,396.1 L1550.3,387.8 L1550.9,424.4 L1551.4,402.8 L1552.0,433.0 L1552.5,416.6 L1553.0,372.5 L1553.6,394.5 L1554.1,412.7 L1554.7,396.4 L1555.2,406.2 L1555.8,394.0 L1556.4,396.7 L1556.9,407.0 L1557.5,381.0 L1558.1,389.7 L1558.8,397.2 L1559.4,377.2 L1560.0,420.3 L1560.7,409.4 L1561.3,408.7 L1561.9,408.1 L1562.5,389.0 L1563.2,404.6 L1563.8,348.8 L1564.5,433.8 L1565.1,415.9 L1565.7,413.0 L1566.3,426.4 L1566.9,432.5 L1567.5,372.5 L1568.1,400.2 L1568.6,422.8 L1569.2,435.6 L1569.8,437.4 L1570.3,395.8 L1570.9,410.2 L1571.4,368.5 L1572.0,357.0 L1572.5,406.4 L1573.0,459.5 L1573.6,417.7 L1574.2,373.1 L1574.8,409.1 L1575.4,421.7 L1576.0,370.0 L1576.6,431.2 L1577.1,405.0 L1577.7,367.4 L1578.3,408.8 L1578.9,412.8 L1579.4,425.8 L1580.0,346.0 L1580.5,419.5 L1581.0,400.0" fill="none" stroke="#ff1a24" stroke-width="3.4" stroke-linejoin="miter" stroke-miterlimit="1.5"/>
<line x1="1237.6" y1="158.6" x2="1237.6" y2="371" stroke="#000" stroke-width="3" stroke-dasharray="18.2,14.7"/>
<line x1="1358.8" y1="151.5" x2="1358.8" y2="365.5" stroke="#000" stroke-width="3" stroke-dasharray="18.2,14.7"/>
<rect x="949.4" y="33.8" width="631.6" height="482.6" fill="none" stroke="#000" stroke-width="3.4"/>
</svg>
</body></html>
